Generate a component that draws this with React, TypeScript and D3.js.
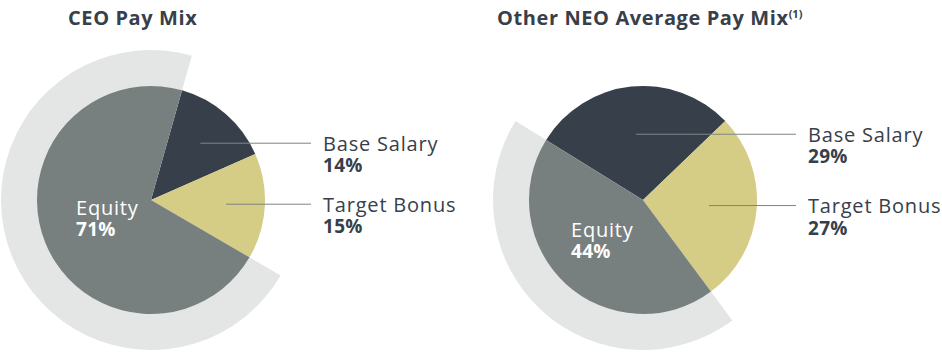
import React, { useEffect, useRef } from 'react';
import * as d3 from 'd3';

const categories = ['Base Salary', 'Target Bonus', 'Equity'];
const ceoValues = [14, 15, 71];
const neoValues = [29, 27, 44];
const colors = ['#37404a', '#d5cc86', '#78807f'];

interface ChartCfg {
  title: string;
  sup?: string;
  values: number[];
  cx: number;
  titleX: number;
  startDeg: number;
  leadR: number;
  labelX: number;
  eqDx: number;
  eqDy: number;
}

const charts: ChartCfg[] = [
  { title: 'CEO Pay Mix', values: ceoValues, cx: 151, titleX: 68, startDeg: 15.8, leadR: 0.66, labelX: 323, eqDx: -75, eqDy: 15 },
  { title: 'Other NEO Average Pay Mix', sup: '(1)', values: neoValues, cx: 643, titleX: 497, startDeg: -58.2, leadR: 0.58, labelX: 808, eqDx: -72, eqDy: 37 },
];

const FONT = '"Open Sans", sans-serif';

export default function App() {
  const ref = useRef<SVGSVGElement | null>(null);

  useEffect(() => {
    if (!ref.current) return;
    const svg = d3.select(ref.current);
    svg.selectAll('*').remove();

    const r = 114;
    const outerR = 150;
    const cy = 200;

    charts.forEach((c) => {
      const start = (c.startDeg * Math.PI) / 180;
      const pie = d3.pie<number>().sort(null).startAngle(start).endAngle(start + 2 * Math.PI);
      const arcs = pie(c.values);
      const arc = d3.arc<d3.PieArcDatum<number>>().innerRadius(0).outerRadius(r);
      const band = d3.arc<d3.PieArcDatum<number>>().innerRadius(r - 1).outerRadius(outerR);

      const g = svg.append('g').attr('transform', `translate(${c.cx},${cy})`);

      // light band behind the equity slice
      g.append('path').attr('d', band(arcs[2])!).attr('fill', '#e4e6e5');

      g.selectAll('.slice')
        .data(arcs)
        .enter()
        .append('path')
        .attr('class', 'slice')
        .attr('d', (d) => arc(d)!)
        .attr('fill', (d, i) => colors[i]);

      // leader lines + labels for base salary and bonus
      [0, 1].forEach((i) => {
        const a = arcs[i];
        const mid = (a.startAngle + a.endAngle) / 2;
        const px = Math.sin(mid) * r * c.leadR;
        const py = -Math.cos(mid) * r * c.leadR;
        const lx = c.labelX - c.cx - 12;
        g.append('line')
          .attr('x1', px)
          .attr('x2', lx)
          .attr('y1', py)
          .attr('y2', py)
          .attr('stroke', '#7d8585')
          .attr('stroke-width', 1);
        g.append('text')
          .attr('x', c.labelX - c.cx)
          .attr('y', py + 7.5)
          .attr('font-family', FONT)
          .attr('font-size', 20)
          .attr('letter-spacing', 0.8)
          .attr('fill', '#37404a')
          .text(categories[i]);
        g.append('text')
          .attr('x', c.labelX - c.cx)
          .attr('y', py + 29)
          .attr('font-family', FONT)
          .attr('font-size', 19)
          .attr('font-weight', 700)
          .attr('letter-spacing', 0.3)
          .attr('fill', '#37404a')
          .text(`${c.values[i]}%`);
      });

      // equity label inside
      g.append('text')
        .attr('x', c.eqDx)
        .attr('y', c.eqDy)
        .attr('font-family', FONT)
        .attr('font-size', 20)
        .attr('letter-spacing', 0.8)
        .attr('fill', '#ffffff')
        .text(categories[2]);
      g.append('text')
        .attr('x', c.eqDx)
        .attr('y', c.eqDy + 21)
        .attr('font-family', FONT)
        .attr('font-size', 19)
        .attr('font-weight', 700)
        .attr('letter-spacing', 0.3)
        .attr('fill', '#ffffff')
        .text(`${c.values[2]}%`);

      const title = svg.append('text')
        .attr('x', c.titleX)
        .attr('y', 25)
        .attr('font-family', FONT)
        .attr('font-size', 20)
        .attr('font-weight', 700)
        .attr('letter-spacing', 0.6)
        .attr('fill', '#37404a')
        .text(c.title);
      if (c.sup) {
        title.append('tspan')
          .attr('font-size', 11)
          .attr('letter-spacing', 0)
          .attr('dy', -7)
          .text(c.sup);
      }
    });
  }, []);

  return (
    <svg
      ref={ref}
      width={942}
      height={352}
      style={{ position: 'absolute', left: 0, top: 0, display: 'block', background: '#fff' }}
    />
  );
}
